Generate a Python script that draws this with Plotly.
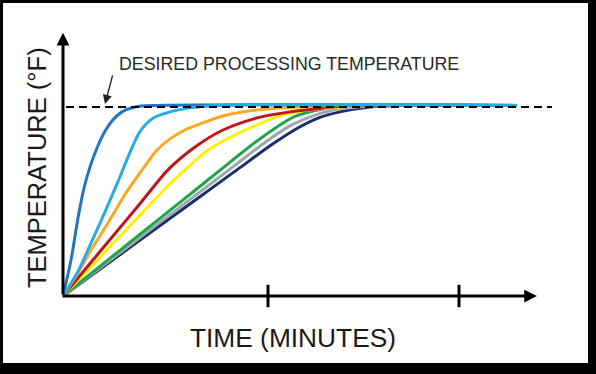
import plotly.graph_objects as go

# Heating curves: time (arbitrary minutes scale) vs temperature (% of desired processing temperature)
dark_blue_x = [0, 0.4, 0.75, 1.05, 1.35, 1.7, 2.05, 2.45, 2.95, 3.6, 4.6, 22.7]
dark_blue_y = [0, 19.0, 41.3, 57.1, 68.3, 78.3, 86.2, 92.6, 97.4, 100.0, 100.8, 100.8]

light_blue_x = [0, 0.75, 1.4, 2.1, 2.75, 3.35, 3.85, 4.5, 5.35, 6.35, 7.6, 22.7]
light_blue_y = [0, 13.0, 28.0, 44.5, 60.5, 76.0, 87.0, 94.0, 97.4, 99.5, 100.8, 100.8]

orange_x = [0, 0.75, 1.4, 2.25, 3.05, 3.85, 4.7, 5.35, 6.1, 6.85, 8.0, 9.7, 11.35, 13.35, 22.7]
orange_y = [0, 12.2, 24.3, 38.6, 52.9, 65.1, 77.2, 83.1, 87.8, 91.0, 95.2, 98.4, 99.7, 100.8, 100.8]

red_x = [0, 1.1, 2.25, 3.9, 5.25, 6.6, 8.0, 9.7, 11.35, 13.0, 14.35, 22.7]
red_y = [0, 14.0, 28.6, 49.5, 66.7, 78.8, 87.8, 94.2, 97.4, 99.5, 100.8, 100.8]

yellow_x = [0, 2.25, 3.9, 5.25, 6.35, 7.1, 8.0, 9.7, 11.0, 12.2, 13.7, 14.85, 22.7]
yellow_y = [0, 25.0, 43.3, 58.3, 69.0, 76.0, 82.0, 90.5, 95.8, 98.4, 99.7, 100.8, 100.8]

green_x = [0, 2.25, 5.25, 6.45, 8.0, 9.7, 10.85, 11.6, 13.0, 14.1, 15.35, 22.7]
green_y = [0, 19.1, 44.5, 54.6, 67.8, 82.0, 90.5, 95.0, 98.9, 100.3, 100.8, 100.8]

gray_x = [0, 3.0, 6.85, 8.5, 10.2, 11.35, 12.3, 13.0, 13.85, 15.1, 16.35, 22.7]
gray_y = [0, 24.1, 55.1, 68.3, 82.0, 90.0, 94.5, 97.0, 99.0, 100.3, 100.8, 100.8]

navy_x = [0, 3.35, 7.0, 8.85, 10.5, 11.85, 12.85, 13.85, 15.35, 16.85, 22.7]
navy_y = [0, 25.7, 53.7, 67.9, 80.5, 89.5, 94.5, 97.4, 100.0, 100.8, 100.8]

desired_x = [0.15, 24.45]
desired_y = [100, 100]

tick_positions = [10.25, 19.8]

series = [
    (navy_x, navy_y, "#1b2d6b"),
    (gray_x, gray_y, "#9ca7ae"),
    (green_x, green_y, "#1fa54a"),
    (yellow_x, yellow_y, "#fff200"),
    (red_x, red_y, "#c0141a"),
    (orange_x, orange_y, "#f9a825"),
    (dark_blue_x, dark_blue_y, "#2176c4"),
    (light_blue_x, light_blue_y, "#29abe2"),
]

fig = go.Figure()
for xs, ys, col in series:
    fig.add_trace(go.Scatter(x=xs, y=ys, mode="lines",
                             line=dict(color=col, width=3, shape="spline", smoothing=0.8),
                             hoverinfo="skip", showlegend=False))

fig.add_trace(go.Scatter(x=desired_x, y=desired_y, mode="lines",
                         line=dict(color="black", width=2, dash="8px,5px"),
                         hoverinfo="skip", showlegend=False))

fig.add_trace(go.Scatter(x=tick_positions, y=[0] * len(tick_positions), mode="markers",
                         marker=dict(symbol="line-ns", size=16, color="black",
                                     line=dict(color="black", width=3)),
                         hoverinfo="skip", showlegend=False, cliponaxis=False))

X_MAX = 25.0
Y_MAX = 140.7

annotations = [
    # y axis with arrow
    dict(x=0, y=139.2, ax=0, ay=0, xref="x", yref="y", axref="x", ayref="y",
         text="", showarrow=True, arrowhead=2, arrowwidth=3, arrowsize=0.85,
         arrowcolor="black", standoff=0, startstandoff=0),
    # x axis with arrow
    dict(x=23.7, y=0, ax=-0.1, ay=0, xref="x", yref="y", axref="x", ayref="y",
         text="", showarrow=True, arrowhead=2, arrowwidth=3, arrowsize=0.85,
         arrowcolor="black", standoff=0, startstandoff=0),
    # pointer to desired temperature line
    dict(x=2.1, y=101.6, ax=2.5, ay=117.5, xref="x", yref="y", axref="x", ayref="y",
         text="", showarrow=True, arrowhead=2, arrowwidth=1.4, arrowsize=1.3,
         arrowcolor="#222222", standoff=0),
    dict(x=0.108, y=0.872, xref="paper", yref="paper", xanchor="left", yanchor="middle",
         text="DESIRED PROCESSING TEMPERATURE", showarrow=False,
         font=dict(family="Liberation Sans, Arial, sans-serif", size=17.8, color="#2a2a2a")),
    dict(x=(293 - 63) / 500, y=(296 - 338) / 266, xref="paper", yref="paper",
         xanchor="center", yanchor="middle", text="TIME (MINUTES)", showarrow=False,
         font=dict(family="Liberation Sans, Arial, sans-serif", size=26.3, color="#1a1a1a")),
    dict(x=(37 - 63) / 500, y=(296 - 168) / 266, xref="paper", yref="paper",
         xanchor="center", yanchor="middle", text="TEMPERATURE (°F)", showarrow=False,
         textangle=-90,
         font=dict(family="Liberation Sans, Arial, sans-serif", size=25.5, color="#1a1a1a")),
]

shapes = [
    dict(type="rect", xref="paper", yref="paper", layer="below",
         x0=(3 - 63) / 500, x1=(588 - 63) / 500,
         y0=(296 - 363) / 266, y1=(296 - 3) / 266,
         fillcolor="white", line=dict(width=0)),
]

fig.update_layout(
    width=596, height=374,
    margin=dict(l=63, r=33, t=30, b=78),
    paper_bgcolor="black",
    plot_bgcolor="rgba(0,0,0,0)",
    annotations=annotations,
    shapes=shapes,
    hovermode=False,
    xaxis=dict(range=[0, X_MAX], showgrid=False, zeroline=False, showline=False,
               showticklabels=False, ticks="", fixedrange=True),
    yaxis=dict(range=[0, Y_MAX], showgrid=False, zeroline=False, showline=False,
               showticklabels=False, ticks="", fixedrange=True),
    showlegend=False,
)

fig.write_html("out.html",
               config={"displayModeBar": False, "staticPlot": True},
               post_script="document.body.style.margin='0px';document.body.style.padding='0px';document.body.style.overflow='hidden';")
